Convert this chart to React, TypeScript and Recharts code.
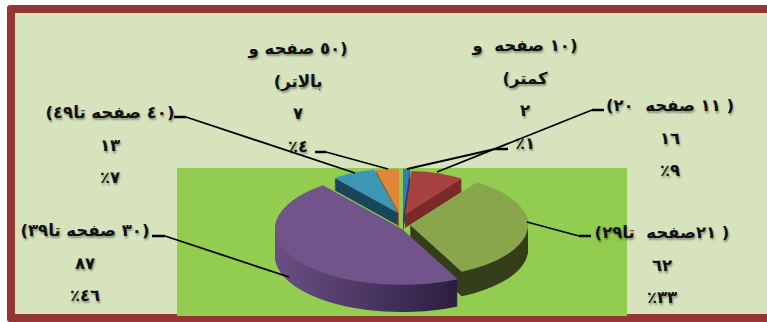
import { PieChart, Pie, Cell } from 'recharts';

const categories = ['۱۰ و کمتر', '۱۱ تا ۲۰', '۲۱ تا ۲۹', '۳۰ تا ۳۹', '۴۰ تا ۴۹', '۵۰ و بالاتر'];
const values = [2, 16, 62, 87, 13, 7];
const topColors = ['#3c78b4', '#a84240', '#8aa64c', '#70548a', '#3c97b4', '#df8638'];
const wallColors = ['#1f4a78', '#7c2a28', '#363f1c', 'url(#purpleWall)', '#1a4757', '#9a5520'];

// back to front, so the walls of the near slices cover what is behind them
const drawOrder = [0, 5, 4, 1, 2, 3];
// per slice look of the fake 3d: pull out of the pie, radius and wall height (chart units, before squash)
const explode = [
  [2, -36],
  [4, -39],
  [9, -16],
  [1, -7],
  [-3, -43],
  [-2, -43],
];
const radii = [108, 100, 118, 127, 102, 100];
const depths = [36, 30, 56, 62, 28, 32];

const labels = [
  { x: 298, y: 33, lines: ['(٥٠ صفحه و', 'بالاتر)', '٧', '٤٪'] },
  { x: 525, y: 30, lines: ['(١٠ صفحه  و', 'كمتر)', '٢', '١٪'] },
  { x: 110, y: 97, lines: ['(٤٠ صفحه تا٤٩)', '١٣', '٧٪'] },
  { x: 670, y: 90, lines: ['( ١١ صفحه  ٢٠)', '١٦', '٩٪'] },
  { x: 85, y: 215, lines: ['(٣٠ صفحه تا٣٩)', '٨٧', '٤٦٪'] },
  { x: 662, y: 217, lines: ['( ٢١صفحه  تا٢٩)', '٦٢', '٣٣٪'] },
];

const leaders = [
  '186,117 355,173',
  '326,152 388,169',
  '495,149 407,169',
  '592,110 437,172',
  '165,236 289,277',
  '579,236 527,222',
];
const leaderStubs = [
  '174,117 186,117',
  '315,152 326,152',
  '508,149 495,149',
  '604,110 592,110',
  '152,236 165,236',
  '591,236 579,236',
];

const rows = categories.map((name, i) => ({ name, value: values[i] }));

const squash = 0.44;
const chartH = 420;
const cx = 401;
const cy = 150;

function slice(index: number, offset: number, colors: string[]) {
  return (
    <Pie
      key={`${index}-${offset}`}
      data={rows}
      dataKey="value"
      cx={cx + explode[index][0]}
      cy={cy + explode[index][1] + offset}
      outerRadius={radii[index]}
      startAngle={90}
      endAngle={-270}
      stroke="none"
      legendType="none"
      isAnimationActive={false}
    >
      {rows.map((row, i) => (
        <Cell key={row.name} fill={i === index ? colors[index] : 'transparent'} />
      ))}
    </Pie>
  );
}

function wallOffsets(index: number) {
  const list: number[] = [];
  for (let d = depths[index]; d > 0; d -= 2) list.push(d);
  return list;
}

export default function App() {
  return (
    <div style={{ position: 'absolute', left: 0, top: 0, width: 767, height: 322, background: '#fff', overflow: 'hidden' }}>
      <div
        style={{
          position: 'absolute',
          left: 7,
          top: 5,
          width: 776,
          height: 317,
          boxSizing: 'border-box',
          border: '8px solid #943634',
          borderRadius: 3,
          background: '#d6e3bc',
        }}
      />
      <div style={{ position: 'absolute', left: 177, top: 168, width: 450, height: 148, background: '#92cd50' }} />
      <div
        style={{
          position: 'absolute',
          left: 0,
          top: 232 - cy * squash,
          width: 767,
          height: chartH,
          transform: `scaleY(${squash})`,
          transformOrigin: '0 0',
        }}
      >
        <PieChart width={767} height={chartH} margin={{ top: 0, right: 0, bottom: 0, left: 0 }}>
          <defs>
            <linearGradient id="purpleWall" x1="0" y1="0" x2="1" y2="0">
              <stop offset="0" stopColor="#6a4f84" />
              <stop offset="0.5" stopColor="#4c3863" />
              <stop offset="1" stopColor="#2b1d40" />
            </linearGradient>
          </defs>
          {drawOrder.map((index) => [
            ...wallOffsets(index).map((offset) => slice(index, offset, wallColors)),
            slice(index, 0, topColors),
          ])}
        </PieChart>
      </div>
      <svg width={767} height={322} style={{ position: 'absolute', left: 0, top: 0 }}>
        {leaders.map((points) => (
          <polyline key={points} points={points} fill="none" stroke="#000" strokeWidth={1.8} />
        ))}
        {leaderStubs.map((points) => (
          <polyline key={points} points={points} fill="none" stroke="#000" strokeWidth={2.5} />
        ))}
      </svg>
      {labels.map((label) => (
        <div
          key={label.x}
          dir="rtl"
          style={{
            position: 'absolute',
            left: label.x - 110,
            top: label.y,
            width: 220,
            textAlign: 'center',
            fontFamily: '"DejaVu Sans", sans-serif',
            fontWeight: 700,
            fontSize: 16.5,
            lineHeight: '32.5px',
            color: '#111',
            textShadow: '1px 2px 2px rgba(0,0,0,0.35)',
            whiteSpace: 'pre',
          }}
        >
          {label.lines.map((line) => (
            <div key={line}>{line}</div>
          ))}
        </div>
      ))}
    </div>
  );
}
